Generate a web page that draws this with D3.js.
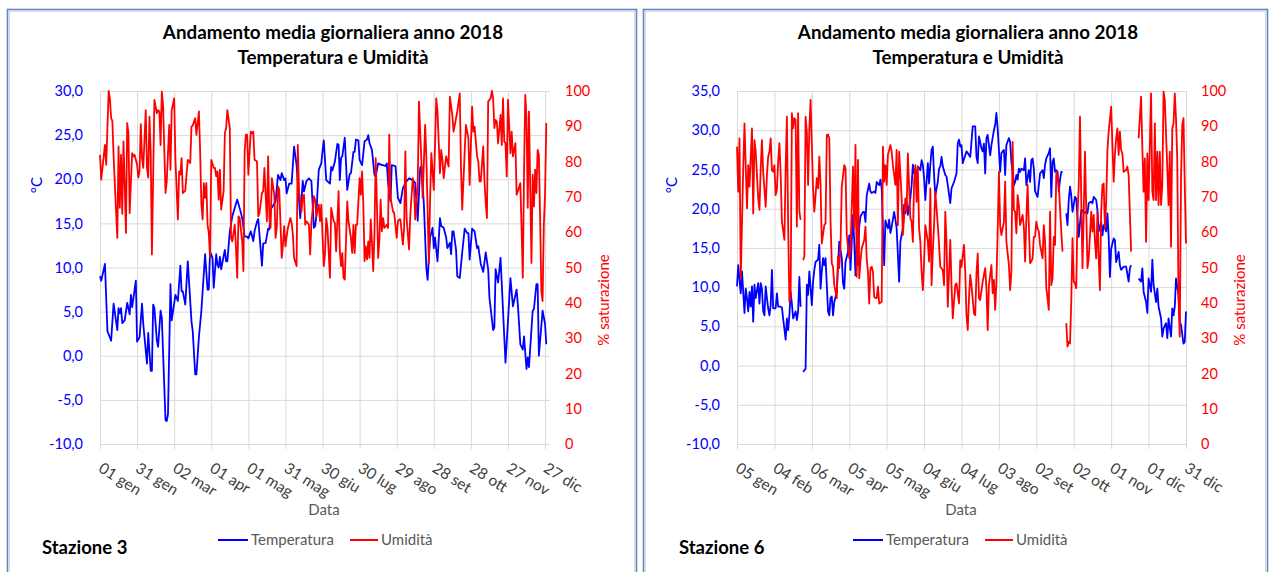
<!DOCTYPE html>
<html>
<head>
<meta charset="utf-8">
<script src="https://cdn.jsdelivr.net/npm/d3@7"></script>
<style>
  body { margin: 0; background: #fff; }
  svg text { font-family: Lato, "Liberation Sans", sans-serif; }
</style>
</head>
<body>
<div id="chart"></div>
<script>
// daily means 2018, [day offset from the first date, value]; null = missing data
var start3 = "2018-01-01";
var start6 = "2018-01-05";
var end = "2018-12-31";

var temp3 = [[0,9.0],[1,8.5],[4,10.4],[6,2.8],[9,1.7],[11,5.9],[14,2.9],[15,5.4],[16,4.8],[17,5.4],[18,3.7],[20,4.0],[22,6.0],[24,4.7],[25,6.9],[26,5.5],[29,8.5],[30,1.6],[32,2.1],[34,5.9],[35,3.6],[38,-0.9],[39,2.6],[41,-1.7],[42,-1.7],[43,5.8],[44,5.4],[46,1.7],[47,1.0],[49,5.1],[50,4.3],[53,-7.3],[54,-7.4],[55,-6.6],[57,8.1],[58,4.0],[61,6.9],[63,6.2],[65,10.2],[66,7.3],[67,7.3],[69,5.8],[71,10.7],[74,3.9],[75,2.8],[77,-2.1],[78,-2.1],[80,2.1],[82,5.1],[85,11.5],[87,7.5],[88,7.5],[89,11.8],[91,11.1],[92,7.7],[94,11.5],[95,10.3],[96,10.0],[97,11.2],[98,9.8],[100,11.3],[101,12.0],[102,10.7],[103,10.7],[105,14.1],[107,15.8],[111,17.7],[113,16.7],[114,16.2],[115,15.6],[117,13.5],[119,13.5],[120,13.3],[122,14.1],[124,13.0],[125,14.1],[127,15.2],[128,15.5],[131,10.2],[132,12.7],[134,12.8],[136,14.4],[137,14.3],[138,16.6],[140,17.0],[142,17.5],[144,20.5],[146,19.9],[147,20.7],[149,19.9],[150,20.1],[151,18.4],[153,19.5],[155,19.5],[157,23.7],[159,21.6],[162,15.6],[164,19.8],[165,18.6],[167,19.8],[169,20.1],[171,19.8],[173,14.5],[174,14.7],[175,15.8],[176,18.8],[177,21.1],[179,21.8],[180,23.2],[181,24.4],[183,19.9],[186,19.5],[187,21.4],[188,21.0],[190,22.0],[192,24.0],[193,23.9],[194,19.9],[195,22.4],[196,22.6],[198,24.7],[200,18.8],[202,20.6],[203,20.7],[205,23.1],[206,23.1],[207,24.5],[209,24.4],[210,22.2],[212,21.6],[214,24.3],[216,24.5],[217,25.0],[218,24.1],[220,23.3],[222,20.5],[223,20.3],[225,21.8],[228,21.6],[229,21.6],[231,21.5],[232,21.8],[233,19.6],[235,17.5],[236,21.6],[239,21.5],[241,17.9],[243,17.3],[245,19.0],[248,19.8],[250,20.1],[253,19.9],[255,19.6],[257,15.3],[259,21.3],[260,21.5],[262,17.1],[264,9.8],[265,8.6],[267,13.4],[269,14.5],[270,12.2],[271,13.4],[273,10.7],[275,15.6],[276,14.7],[278,14.5],[280,13.4],[281,12.2],[283,12.8],[284,11.5],[285,14.1],[286,14.1],[288,12.0],[289,9.0],[291,8.8],[293,11.7],[295,14.4],[297,13.9],[298,13.9],[299,10.9],[301,14.4],[303,14.1],[305,12.2],[306,12.4],[308,10.4],[310,9.5],[312,11.7],[314,9.8],[315,6.6],[318,2.9],[319,3.2],[320,9.8],[322,8.3],[324,11.1],[325,8.1],[328,-0.8],[330,3.9],[332,8.8],[334,5.6],[337,7.5],[338,5.8],[340,1.3],[342,0.7],[343,2.2],[345,-1.5],[346,-0.2],[347,-1.3],[350,5.1],[351,5.3],[353,8.1],[354,8.1],[355,0.0],[358,5.1],[360,3.6],[361,1.3]];

var hum3 = [[0,81.9],[1,74.9],[3,81.5],[4,84.7],[5,79.1],[7,100],[8,97.9],[9,92.3],[10,91.5],[11,81.5],[13,65.9],[14,58.4],[15,84.3],[16,66.9],[17,81.9],[18,65.2],[19,85.7],[20,73.4],[21,59.8],[22,90.9],[23,88.0],[24,65.4],[26,82.4],[27,81.5],[28,81.9],[30,79.1],[31,75.5],[32,77.4],[33,90.6],[34,81.0],[35,78.2],[37,94.6],[38,78.2],[39,75.5],[40,92.7],[41,82.9],[42,53.7],[44,97.5],[46,93.7],[47,94.6],[48,94.2],[49,84.7],[50,99.8],[51,96.0],[53,71.1],[54,74.4],[56,90.4],[57,77.7],[58,94.6],[60,97.9],[61,80.5],[63,63.6],[64,77.2],[65,76.3],[66,81.0],[67,71.1],[69,71.8],[70,76.3],[71,80.5],[73,79.6],[74,89.9],[75,90.2],[77,92.3],[78,87.6],[80,94.2],[81,82.9],[82,67.8],[83,63.6],[84,73.9],[85,69.7],[86,73.9],[87,62.1],[88,59.8],[89,53.0],[90,80.5],[92,78.2],[93,78.2],[94,75.8],[95,77.2],[96,69.2],[97,77.7],[98,66.4],[100,71.6],[101,88.0],[102,89.5],[103,94.6],[105,89.5],[106,58.4],[107,57.4],[109,62.1],[110,55.6],[111,47.1],[112,64.5],[113,64.0],[115,57.4],[116,49.0],[117,82.9],[118,87.6],[119,87.6],[120,76.3],[121,82.9],[122,88.5],[123,88.0],[124,88.5],[125,80.5],[127,80.0],[128,64.5],[129,65.4],[131,71.1],[132,71.6],[133,78.2],[135,63.1],[136,81.5],[137,64.0],[138,61.2],[139,75.3],[141,70.6],[142,58.4],[143,61.2],[144,73.0],[145,72.0],[147,52.7],[148,56.5],[149,61.7],[150,56.0],[151,58.9],[152,61.2],[154,64.0],[155,62.6],[156,59.3],[157,52.7],[159,50.4],[160,84.7],[161,71.6],[163,65.9],[164,70.2],[165,70.6],[166,62.1],[167,63.1],[169,62.1],[170,53.7],[171,62.6],[173,70.2],[174,69.2],[175,64.5],[177,67.8],[178,63.1],[179,67.8],[181,50.4],[182,53.7],[183,64.0],[184,61.2],[186,47.1],[187,66.9],[189,63.1],[190,62.6],[191,54.6],[193,71.6],[194,54.6],[195,50.4],[196,54.1],[197,47.1],[198,46.6],[200,68.7],[201,63.1],[203,58.4],[204,54.1],[205,62.1],[206,54.1],[207,62.1],[208,62.1],[210,75.3],[211,70.6],[212,77.2],[213,67.8],[214,51.8],[215,56.0],[216,52.3],[217,57.4],[218,52.7],[219,63.6],[220,57.0],[221,49.0],[222,59.3],[223,81.0],[224,67.8],[225,52.7],[226,57.9],[227,69.2],[228,60.3],[229,64.0],[230,61.2],[232,62.1],[233,61.2],[234,87.6],[235,69.7],[237,65.9],[238,65.4],[240,58.4],[241,63.1],[242,63.6],[243,63.6],[245,56.5],[246,61.2],[247,82.9],[248,64.0],[250,55.1],[251,65.0],[253,75.3],[254,72.5],[255,63.6],[257,73.4],[258,97.0],[260,80.0],[261,69.7],[263,90.4],[264,81.0],[266,51.3],[267,69.2],[268,82.4],[270,72.0],[271,84.7],[272,97.9],[273,94.2],[275,76.7],[276,83.3],[277,80.5],[278,75.3],[280,81.5],[282,78.6],[283,98.4],[285,93.2],[286,88.5],[287,90.4],[289,94.2],[291,99.3],[292,78.2],[293,66.4],[295,82.9],[296,90.4],[298,86.6],[299,73.4],[301,95.6],[302,88.5],[303,89.9],[305,81.5],[306,80.0],[307,74.4],[308,74.4],[310,84.3],[311,74.4],[312,68.3],[313,64.0],[314,97.0],[316,97.9],[317,100],[318,97.9],[319,89.5],[320,91.8],[321,91.3],[322,85.2],[324,93.2],[325,84.7],[326,97.9],[327,85.7],[328,85.2],[329,75.8],[330,97.5],[332,82.4],[333,88.5],[334,81.5],[336,85.2],[337,70.6],[338,71.6],[340,73.9],[341,61.2],[342,47.1],[343,77.2],[344,98.9],[345,92.3],[346,66.9],[347,94.2],[349,51.3],[350,76.3],[351,67.3],[352,77.7],[353,71.1],[354,83.3],[355,81.9],[356,64.0],[357,43.3],[358,40.5],[359,62.1],[360,70.6],[361,90.9]];

var temp6 = [[0,10.1],[1,12.8],[3,9.2],[4,12.0],[6,6.7],[7,9.8],[8,8.6],[9,6.9],[10,9.4],[11,7.5],[12,10.1],[13,5.6],[14,10.3],[15,8.6],[17,10.5],[18,7.9],[19,10.5],[20,9.8],[21,6.9],[22,6.4],[23,10.1],[24,8.6],[25,7.3],[26,6.4],[27,7.7],[28,12.2],[29,7.3],[31,7.3],[32,9.2],[33,7.5],[35,7.5],[36,7.4],[37,6.0],[39,3.3],[40,6.0],[41,4.5],[42,6.4],[43,9.4],[44,7.9],[45,6.0],[47,6.9],[48,5.8],[49,6.9],[50,11.3],[51,7.5],[52,null],[53,-0.8],[55,-0.4],[56,10.3],[57,9.0],[58,12.0],[60,7.7],[61,10.7],[62,12.2],[63,13.2],[65,13.5],[66,15.4],[67,9.8],[68,12.0],[69,13.7],[70,12.8],[71,13.7],[72,10.3],[73,6.9],[74,6.4],[75,8.6],[76,8.8],[77,6.4],[78,8.1],[80,9.4],[81,12.8],[82,15.8],[84,13.7],[85,10.5],[86,9.8],[87,13.2],[89,14.5],[90,16.6],[91,12.2],[93,19.2],[94,15.8],[95,11.5],[96,15.6],[97,12.8],[98,17.7],[99,19.0],[101,19.6],[102,19.6],[103,18.3],[104,21.7],[106,23.2],[107,22.2],[108,22.0],[110,22.2],[111,22.0],[112,23.4],[114,23.0],[115,23.7],[116,22.6],[118,12.8],[119,18.5],[120,17.9],[121,17.5],[122,18.6],[123,16.9],[124,17.7],[126,19.6],[127,18.6],[128,17.5],[130,10.7],[131,15.8],[133,17.5],[134,20.5],[135,19.4],[136,20.9],[137,19.2],[139,21.3],[140,23.0],[141,25.6],[142,24.5],[143,24.9],[144,24.3],[145,25.4],[147,24.9],[148,26.2],[149,25.6],[150,23.9],[151,21.1],[153,25.8],[154,23.2],[155,25.6],[156,27.5],[157,27.9],[158,24.3],[159,21.7],[161,23.4],[162,25.1],[163,25.4],[164,26.6],[165,25.4],[167,24.3],[168,24.1],[169,23.0],[171,20.7],[172,22.6],[173,23.0],[174,23.4],[176,24.5],[177,28.3],[178,28.8],[179,27.9],[180,28.1],[181,25.8],[183,26.8],[184,27.3],[185,27.1],[187,26.6],[188,28.5],[189,30.5],[191,30.5],[192,26.6],[193,25.8],[194,29.2],[196,27.7],[197,27.3],[198,28.3],[199,24.5],[200,29.0],[201,29.4],[203,26.8],[204,28.1],[206,30.0],[207,30.7],[208,32.2],[209,30.2],[210,27.5],[211,24.7],[212,27.1],[214,27.5],[215,24.3],[216,28.1],[218,29.0],[219,28.5],[220,26.0],[222,23.0],[223,23.4],[224,24.3],[225,23.7],[226,25.1],[227,24.7],[228,25.1],[230,24.9],[231,26.4],[232,23.0],[234,24.9],[235,23.4],[236,26.2],[237,26.4],[238,25.1],[239,22.2],[241,21.5],[242,23.0],[243,24.5],[245,24.9],[246,23.9],[247,25.6],[248,26.4],[250,27.1],[251,27.7],[252,21.5],[253,26.0],[254,26.4],[255,24.7],[256,24.9],[257,24.7],[258,22.2],[259,23.7],[260,24.7],[261,24.6],[262,null],[264,19.4],[265,17.9],[266,21.1],[267,22.8],[268,21.7],[269,19.6],[271,21.5],[272,21.3],[273,18.8],[274,16.4],[276,19.8],[277,19.8],[278,19.4],[280,19.6],[281,19.4],[282,20.7],[284,20.9],[285,20.7],[286,21.5],[288,21.1],[289,19.8],[290,17.1],[292,18.3],[293,16.6],[294,17.9],[296,17.1],[297,19.4],[298,16.4],[299,11.3],[300,14.9],[302,16.2],[303,16.0],[304,13.2],[306,14.5],[307,12.8],[308,12.2],[310,12.6],[311,12.6],[312,12.6],[314,10.7],[315,12.4],[316,12.8],[318,null],[322,11.1],[324,10.7],[325,12.4],[326,9.4],[328,8.1],[329,6.7],[330,11.1],[332,9.4],[333,13.5],[334,10.3],[336,8.1],[337,9.8],[338,7.5],[340,6.0],[341,3.7],[342,4.7],[344,5.4],[345,3.5],[346,6.0],[348,3.7],[349,7.3],[350,6.4],[351,7.5],[352,11.1],[354,9.0],[355,5.6],[356,5.2],[358,2.8],[359,3.0],[360,6.9]];

var hum6 = [[0,84.2],[1,71.5],[2,86.6],[3,46.9],[5,78.1],[6,90.8],[8,66.8],[9,79.0],[10,72.9],[12,89.4],[13,65.3],[14,86.1],[15,82.8],[17,69.6],[18,66.3],[19,78.1],[20,86.1],[21,77.1],[23,67.2],[24,76.2],[25,81.4],[26,82.8],[27,86.6],[28,77.6],[29,77.1],[30,79.0],[31,70.5],[32,72.0],[33,80.0],[34,85.2],[35,76.7],[36,63.0],[38,57.8],[39,78.1],[40,92.7],[41,62.0],[42,40.3],[43,41.3],[44,93.7],[45,89.4],[46,92.3],[47,91.8],[48,61.6],[49,93.7],[50,65.8],[51,63.5],[52,null],[53,52.1],[54,53.1],[55,92.7],[56,88.5],[57,73.4],[58,89.4],[59,97.5],[60,84.7],[61,72.4],[62,65.8],[64,75.3],[65,72.4],[66,81.4],[67,73.4],[68,56.8],[70,62.0],[71,62.5],[72,87.5],[73,87.7],[74,86.6],[75,63.0],[76,51.2],[77,50.2],[78,45.0],[80,41.3],[81,53.1],[82,49.8],[83,56.4],[84,72.9],[86,79.0],[87,78.1],[88,59.2],[90,52.6],[91,55.4],[93,78.6],[94,61.1],[95,84.7],[96,47.4],[97,80.5],[98,46.9],[99,51.7],[100,55.4],[102,57.8],[103,61.6],[104,52.6],[105,48.8],[106,39.8],[107,49.8],[108,50.2],[109,48.8],[110,41.7],[111,41.3],[112,41.3],[113,44.6],[114,39.8],[116,40.3],[117,84.2],[118,74.3],[119,79.0],[120,73.4],[121,81.9],[123,84.7],[124,82.8],[125,79.0],[127,73.4],[128,83.3],[129,62.0],[130,82.8],[131,76.7],[132,69.6],[133,59.2],[135,69.6],[136,65.8],[137,82.3],[139,63.9],[140,63.0],[141,57.3],[142,74.3],[143,79.0],[144,68.6],[145,78.6],[146,61.1],[147,57.3],[148,48.8],[149,43.6],[150,51.7],[151,62.0],[153,57.3],[154,51.7],[155,72.4],[156,45.0],[157,54.5],[158,62.0],[159,71.5],[161,62.0],[162,56.4],[163,50.2],[165,49.3],[166,45.0],[167,65.8],[168,57.3],[169,38.9],[171,57.8],[172,45.0],[173,35.6],[174,40.3],[175,45.0],[176,45.5],[178,39.8],[179,52.1],[180,50.2],[182,56.4],[183,48.8],[184,36.5],[185,32.3],[186,41.3],[187,47.9],[188,45.0],[190,37.0],[191,36.5],[192,48.3],[193,54.0],[194,41.3],[195,40.8],[197,46.0],[198,47.9],[199,49.8],[200,44.1],[201,32.3],[202,45.0],[204,50.7],[205,42.7],[206,46.5],[207,38.0],[208,46.0],[209,60.2],[210,77.1],[211,62.0],[212,59.2],[214,63.0],[215,74.3],[216,57.3],[218,50.7],[219,43.6],[220,48.8],[221,85.6],[222,66.3],[223,65.8],[224,59.7],[225,70.5],[226,67.7],[227,62.0],[229,64.9],[230,61.6],[231,51.7],[232,63.9],[233,73.4],[234,62.0],[235,51.2],[236,51.7],[237,52.6],[238,58.7],[239,58.7],[240,63.0],[241,61.1],[242,60.2],[243,56.4],[245,52.6],[246,62.0],[247,57.3],[248,44.1],[249,41.3],[250,38.0],[251,65.8],[252,45.0],[253,46.9],[254,58.7],[255,56.4],[256,77.1],[257,76.2],[258,73.8],[259,66.8],[260,60.2],[261,54.5],[262,null],[264,34.2],[265,27.6],[266,29.0],[267,28.5],[268,40.3],[269,58.3],[270,46.0],[271,45.5],[272,44.1],[273,64.9],[274,73.4],[275,92.7],[276,69.6],[277,49.8],[278,65.8],[279,82.8],[280,66.8],[281,49.8],[282,52.6],[284,65.8],[285,60.2],[286,64.9],[287,57.3],[288,52.6],[289,65.8],[290,52.6],[291,43.6],[292,65.8],[293,73.4],[294,73.8],[295,61.1],[296,68.6],[297,83.3],[298,88.5],[300,95.6],[301,84.7],[302,74.3],[303,81.9],[304,86.6],[305,89.4],[306,81.9],[307,88.5],[308,83.3],[309,82.3],[310,77.1],[312,77.6],[313,78.6],[314,76.2],[316,54.5],[318,null],[322,86.6],[324,98.4],[325,83.8],[326,71.5],[327,80.9],[328,57.3],[329,82.3],[330,69.1],[332,99.3],[333,71.5],[334,69.1],[335,90.8],[336,69.1],[337,82.8],[338,67.7],[339,82.8],[340,67.7],[341,73.4],[342,99.8],[343,97.5],[345,78.1],[346,67.7],[347,82.8],[348,55.9],[349,89.4],[350,90.8],[351,99.3],[352,92.3],[353,80.5],[354,41.3],[355,30.4],[356,75.3],[357,90.4],[358,92.3],[359,73.4],[360,56.8]];

var tempTicks3 = [-10, -5, 0, 5, 10, 15, 20, 25, 30];
var tempTicks6 = [-10, -5, 0, 5, 10, 15, 20, 25, 30, 35];
var humTicks = [0, 10, 20, 30, 40, 50, 60, 70, 80, 90, 100];
var dateStep = 30; // days between x ticks

var title1 = "Andamento media giornaliera anno 2018";
var title2 = "Temperatura e Umidità";

var svgWidth = 1271;
var svgHeight = 572;

var svg = d3.select("#chart")
  .append("svg")
  .attr("width", svgWidth)
  .attr("height", svgHeight);

var it = d3.timeFormatLocale({
  dateTime: "%A %e %B %Y, %X", date: "%d/%m/%Y", time: "%H:%M:%S", periods: ["AM", "PM"],
  days: ["domenica", "lunedì", "martedì", "mercoledì", "giovedì", "venerdì", "sabato"],
  shortDays: ["dom", "lun", "mar", "mer", "gio", "ven", "sab"],
  months: ["gennaio", "febbraio", "marzo", "aprile", "maggio", "giugno", "luglio", "agosto", "settembre", "ottobre", "novembre", "dicembre"],
  shortMonths: ["gen", "feb", "mar", "apr", "mag", "giu", "lug", "ago", "set", "ott", "nov", "dic"]
});
var num = d3.formatLocale({ decimal: ",", thousands: ".", grouping: [3], currency: ["", " €"], minus: "-" });
var parseDate = d3.timeParse("%Y-%m-%d");
var fmtDate = it.format("%d %b");
var fmtTemp = num.format(".1f");

var gridColor = "#d9d9d9";

function drawPanel(p) {
  var g = svg.append("g");

  // frame
  g.append("rect")
    .attr("x", p.frameX + 2).attr("y", 11.5)
    .attr("width", p.frameW - 4).attr("height", 600)
    .attr("fill", "none").attr("stroke", "#d9d9d9");
  g.append("rect")
    .attr("x", p.frameX).attr("y", 9.5)
    .attr("width", p.frameW).attr("height", 600)
    .attr("fill", "none").attr("stroke", "#5b87c6").attr("stroke-width", 1.6);

  var start = parseDate(p.start);
  var x = d3.scaleTime().domain([start, parseDate(end)]).range([p.left, p.right]);
  var yT = d3.scaleLinear().domain([-10, p.tMax]).range([p.bottom, p.top]);
  var yH = d3.scaleLinear().domain([0, 100]).range([p.bottom, p.top]);
  var ticks = d3.range(13).map(function (k) { return d3.timeDay.offset(start, k * dateStep); });

  // horizontal grid
  g.append("g")
    .attr("transform", "translate(" + p.left + ",0)")
    .call(d3.axisLeft(yT).tickValues(p.tempTicks).tickSize(-(p.right - p.left)).tickFormat(""))
    .call(function (a) { a.select(".domain").remove(); })
    .selectAll("line").attr("stroke", gridColor);

  // vertical grid + outside tick marks
  g.append("g")
    .attr("transform", "translate(0," + (p.bottom + 5) + ")")
    .call(d3.axisBottom(x).tickValues(ticks).tickSize(-(p.bottom - p.top + 5)).tickFormat(""))
    .call(function (a) { a.select(".domain").remove(); })
    .selectAll("line").attr("stroke", gridColor);

  // date labels
  var xa = g.append("g")
    .attr("transform", "translate(0," + p.bottom + ")")
    .call(d3.axisBottom(x).tickValues(ticks).tickSize(0).tickFormat(fmtDate));
  xa.select(".domain").remove();
  xa.selectAll("text")
    .attr("x", 0).attr("y", 0).attr("dy", 0)
    .attr("text-anchor", "start")
    .attr("transform", "translate(-3,27) rotate(32)")
    .style("font-size", "15.5px").attr("fill", "#404040");

  // left axis labels
  var la = g.append("g")
    .attr("transform", "translate(" + (p.left - 14) + ",0)")
    .call(d3.axisLeft(yT).tickValues(p.tempTicks).tickSize(0).tickFormat(fmtTemp));
  la.select(".domain").remove();
  la.selectAll("text").style("font-size", "14.5px").attr("fill", "#0000ff");

  // right axis labels
  var ra = g.append("g")
    .attr("transform", "translate(" + (p.right + 12) + ",0)")
    .call(d3.axisRight(yH).tickValues(humTicks).tickSize(0).tickFormat(d3.format("d")));
  ra.select(".domain").remove();
  ra.selectAll("text").style("font-size", "14.5px").attr("fill", "#ff0000");

  // lines
  var lineT = d3.line()
    .defined(function (d) { return d[1] !== null; })
    .x(function (d) { return x(d3.timeDay.offset(start, d[0])); })
    .y(function (d) { return yT(d[1]); });
  var lineH = d3.line()
    .defined(function (d) { return d[1] !== null; })
    .x(function (d) { return x(d3.timeDay.offset(start, d[0])); })
    .y(function (d) { return yH(d[1]); });

  g.append("path").datum(p.temp)
    .attr("d", lineT).attr("fill", "none")
    .attr("stroke", "#0000ff").attr("stroke-width", 1.8).attr("stroke-linejoin", "round");
  g.append("path").datum(p.hum)
    .attr("d", lineH).attr("fill", "none")
    .attr("stroke", "#ff0000").attr("stroke-width", 1.8).attr("stroke-linejoin", "round");

  // titles
  var t = g.append("text")
    .attr("text-anchor", "middle")
    .style("font-size", "18.8px").style("font-weight", "bold").attr("fill", "#000");
  t.append("tspan").attr("x", p.titleX).attr("y", 39).text(title1);
  t.append("tspan").attr("x", p.titleX).attr("y", 64).text(title2);

  g.append("text")
    .attr("transform", "translate(" + p.degX + ",185) rotate(-90)")
    .attr("text-anchor", "middle").attr("dy", "0.35em")
    .style("font-size", "15px").attr("fill", "#0000ff")
    .text("°C");

  g.append("text")
    .attr("transform", "translate(" + p.satX + ",300) rotate(-90)")
    .attr("text-anchor", "middle").attr("dy", "0.35em")
    .style("font-size", "15px").attr("fill", "#ff0000")
    .text("% saturazione");

  g.append("text")
    .attr("x", p.dataX).attr("y", 515)
    .attr("text-anchor", "middle")
    .style("font-size", "15px").attr("fill", "#595959")
    .text("Data");

  // legend
  var lg = g.append("g").attr("transform", "translate(" + p.legendX + ",540)");
  lg.append("line").attr("x1", 0).attr("x2", 30).attr("stroke", "#0000ff").attr("stroke-width", 2);
  lg.append("text").attr("x", 33).attr("dy", "0.35em")
    .style("font-size", "15px").attr("fill", "#595959").text("Temperatura");
  lg.append("line").attr("x1", 132).attr("x2", 160).attr("stroke", "#ff0000").attr("stroke-width", 2);
  lg.append("text").attr("x", 163).attr("dy", "0.35em")
    .style("font-size", "15px").attr("fill", "#595959").text("Umidità");

  g.append("text")
    .attr("x", p.stationX).attr("y", 554)
    .style("font-size", "18.5px").style("font-weight", "bold").attr("fill", "#000")
    .text(p.station);
}

drawPanel({
  frameX: 7.5, frameW: 629, left: 100, right: 550, top: 91, bottom: 444,
  start: start3, tMax: 30, tempTicks: tempTicks3, temp: temp3, hum: hum3,
  titleX: 333, degX: 37, satX: 604, dataX: 324, legendX: 218, stationX: 42, station: "Stazione 3"
});

drawPanel({
  frameX: 643.5, frameW: 624, left: 737, right: 1186, top: 91, bottom: 444,
  start: start6, tMax: 35, tempTicks: tempTicks6, temp: temp6, hum: hum6,
  titleX: 968, degX: 672, satX: 1240, dataX: 961, legendX: 853, stationX: 679, station: "Stazione 6"
});
</script>
</body>
</html>
